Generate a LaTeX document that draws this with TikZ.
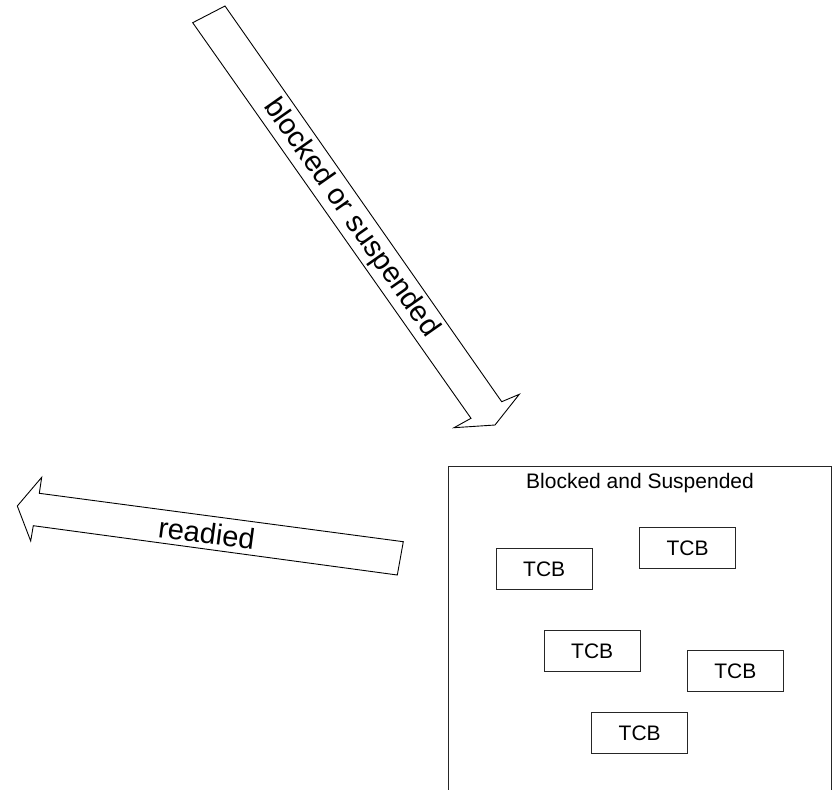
\documentclass[tikz,border=0pt]{standalone}
\usepackage{fontspec}
\setmainfont{Liberation Sans}
\begin{document}
\begin{tikzpicture}[x=1pt,y=-1pt,
  shapeline/.style={draw=black,line width=0.9pt,line join=miter},
  lbl/.style={font=\fontsize{29}{33}\selectfont, inner sep=0pt},
  ttl/.style={font=\fontsize{21}{25}\selectfont, inner sep=0pt},
  tcb/.style={draw=black!85, line width=0.9pt, minimum width=96pt, minimum height=41pt, inner sep=0pt, font=\fontsize{21}{25}\selectfont}]
\useasboundingbox (0,0) rectangle (833,790);
\clip (0,0) rectangle (833,790);
% blocked or suspended arrow
\draw[shapeline] (192.7,22.7) -- (225,6) -- (501.7,401.7) -- (519.3,394.3) -- (495,425) -- (454,427.7) -- (471,418.3) -- cycle;
\node[lbl, rotate=-54.9] (blk) at (351,218) {blocked or suspended};
% readied arrow
\draw[shapeline] (17.3,506) -- (41.7,477.3) -- (39.3,493.3) -- (403.3,541.7) -- (397.3,575) -- (33.3,525.7) -- (30.7,541) -- cycle;
\node[lbl, rotate=-7.6] (rdy) at (206.7,533.3) {readied};
% box
\draw[draw=black!85, line width=0.9pt] (448.3,466) rectangle (831.7,800);
\node[ttl] (title) at (640,483.3) {Blocked and Suspended};
\node[tcb] (t1) at (544.2,568.8) {TCB};
\node[tcb] (t2) at (687.5,548.2) {TCB};
\node[tcb] (t3) at (592.2,650.8) {TCB};
\node[tcb] (t4) at (735.3,671.2) {TCB};
\node[tcb] (t5) at (639.7,732.8) {TCB};
\end{tikzpicture}
\end{document}
